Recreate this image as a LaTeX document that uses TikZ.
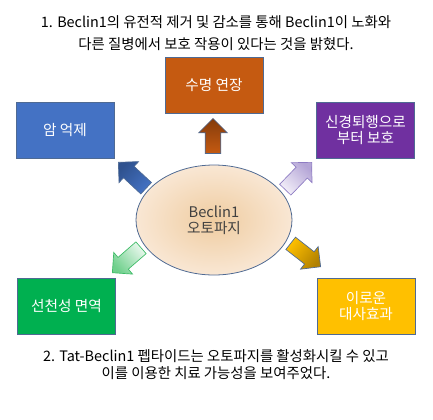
\documentclass[tikz,border=0pt]{standalone}
\usepackage{fontspec}
\setmainfont{Noto Sans CJK KR}
\usetikzlibrary{positioning}
\usetikzlibrary{shapes.geometric}
\usetikzlibrary{shapes.arrows}
\definecolor{boxline}{HTML}{4F6A93}
\definecolor{lifecol}{HTML}{C55A11}
\definecolor{cancercol}{HTML}{4472C4}
\definecolor{neurocol}{HTML}{7030A0}
\definecolor{immunecol}{HTML}{00B050}
\definecolor{metacol}{HTML}{FFC000}
\definecolor{coretext}{HTML}{404040}

\begin{document}
\begin{tikzpicture}[x=0.75pt, y=-0.75pt, font=\fontsize{11}{12}\selectfont]
    \tikzstyle{box}=[draw=boxline, line width=0.6pt, rectangle, minimum width=73.5pt, minimum height=42pt, inner sep=0pt, text=white, align=center]
    \tikzstyle{bigarrow}=[single arrow, draw=boxline, line width=0.5pt, inner sep=5.6pt, single arrow head extend=4.9pt, minimum height=28.5pt, anchor=tip]

    \useasboundingbox (0,0) rectangle (433,419);

    % centre
    \node[ellipse, draw=boxline, line width=0.6pt, minimum width=117pt, minimum height=82.5pt, inner color={rgb,255:red,239;green,204;blue,160}, outer color={rgb,255:red,249;green,231;blue,212}, text=coretext, align=center] (core) at (214,220) {Beclin1\\오토파지};

    % effects
    \node[box, fill=lifecol] (life) at (214,85) {수명 연장};
    \node[box, fill=cancercol] (cancer) at (65,130) {암 억제};
    \node[box, fill=neurocol] (neuro) at (365.5,130.5) {신경퇴행으로\\부터 보호};
    \node[box, fill=immunecol] (immune) at (66.5,306.5) {선천성 면역};
    \node[box, fill=metacol] (meta) at (366,306.5) {이로운\\대사효과};

    % block arrows
    \node[bigarrow, minimum height=26.25pt, rotate=90, top color={rgb,255:red,132;green,60;blue,12}, bottom color=lifecol, shading angle=0] (uparr) at (213,118) {};
    \node[bigarrow, rotate=137, top color={rgb,255:red,47;green,82;blue,143}, bottom color=cancercol, shading angle=47] (cancerarr) at (118,162) {};
    \node[bigarrow, draw={rgb,255:red,142;green,124;blue,195}, rotate=46, top color={rgb,255:red,180;green,165;blue,214}, bottom color={rgb,255:red,243;green,239;blue,249}, shading angle=-44] (neuroarr) at (312,162) {};
    \node[bigarrow, draw={rgb,255:red,61;green,187;blue,102}, rotate=221, top color={rgb,255:red,111;green,208;blue,140}, bottom color={rgb,255:red,234;green,248;blue,238}, shading angle=131] (immunearr) at (112,273) {};
    \node[bigarrow, rotate=-38, top color={rgb,255:red,176;green,128;blue,0}, bottom color=metacol, shading angle=-128] (metaarr) at (321,267) {};

    % captions
    \node[align=center, font=\fontsize{10.8}{16.5}\selectfont] (toptext) at (216,33) {1. Beclin1의 유전적 제거 및 감소를 통해 Beclin1이 노화와\\다른 질병에서 보호 작용이 있다는 것을 밝혔다.};
    \node[align=center, font=\fontsize{10.8}{12.75}\selectfont] (bottext) at (216,364.5) {2. Tat-Beclin1 펩타이드는 오토파지를 활성화시킬 수 있고\\이를 이용한 치료 가능성을 보여주었다.};
\end{tikzpicture}
\end{document}
